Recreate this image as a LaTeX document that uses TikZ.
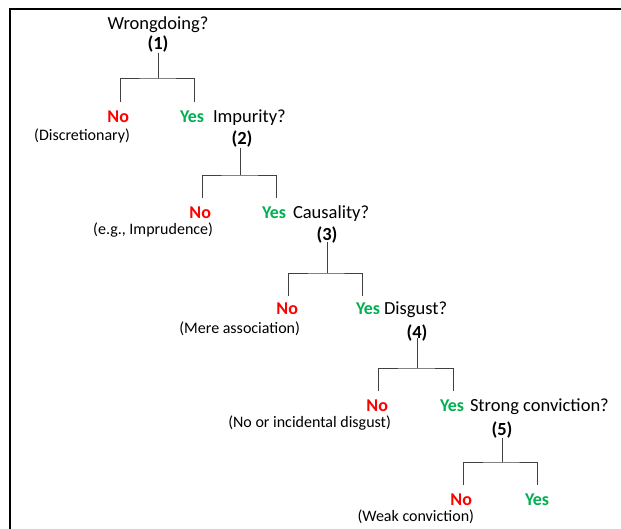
\documentclass[tikz,border=0pt]{standalone}
\usepackage{fontspec}
\setmainfont{Carlito}
\definecolor{nored}{HTML}{FF0000}
\definecolor{yesgreen}{HTML}{00B050}
\definecolor{linegray}{HTML}{404040}
\begin{document}
\begin{tikzpicture}[x=1pt,y=-1pt,
  every node/.style={inner sep=0pt,outer sep=0pt},
  qtext/.style={font=\fontsize{18.5}{22}\selectfont,text=black},
  numtext/.style={font=\fontsize{18.5}{22}\selectfont\bfseries,text=black},
  notext/.style={font=\fontsize{18}{22}\selectfont\bfseries,text=nored},
  yestext/.style={font=\fontsize{18}{22}\selectfont\bfseries,text=yesgreen},
  partext/.style={font=\fontsize{16}{19}\selectfont,text=black},
  conn/.style={draw=linegray,line width=0.9pt},
  frameline/.style={draw=black,line width=2pt}]
\useasboundingbox (0,0) rectangle (621,529);
% frame
\draw[frameline] (621,9.5) -- (9.5,9.5) -- (9.5,529);

% level 1
\node[qtext,anchor=base] (q1) at (158,30) {Wrongdoing?};
\node[numtext,anchor=base] (n1) at (158,50) {(1)};
\node[notext,anchor=base east] (no1) at (129,123) {No};
\node[partext,anchor=base east] (p1) at (130,141) {(Discretionary)};
\node[yestext,anchor=base west] (y1) at (180,123) {Yes};
\coordinate (j1) at (158,78);
\coordinate (lb1) at (120,102);
\coordinate (rb1) at (194,102);
\draw[conn] (n1.south -| j1) -- (j1);
\draw[conn] (lb1) |- (j1) -| (rb1);

% level 2
\node[qtext,anchor=base west] (q2) at (213,123) {Impurity?};
\node[numtext,anchor=base] (n2) at (242,145) {(2)};
\node[notext,anchor=base east] (no2) at (211,219) {No};
\node[partext,anchor=base east] (p2) at (213,235) {(e.g., Imprudence)};
\node[yestext,anchor=base west] (y2) at (262,219) {Yes};
\coordinate (j2) at (240,175);
\coordinate (lb2) at (202,198);
\coordinate (rb2) at (276,198);
\draw[conn] (n2.south -| j2) -- (j2);
\draw[conn] (lb2) |- (j2) -| (rb2);

% level 3
\node[qtext,anchor=base west] (q3) at (293,219) {Causality?};
\node[numtext,anchor=base] (n3) at (327,241) {(3)};
\node[notext,anchor=base east] (no3) at (298,315) {No};
\node[partext,anchor=base east] (p3) at (300,333) {(Mere association)};
\node[yestext,anchor=base west] (y3) at (356,315) {Yes};
\coordinate (j3) at (327,273);
\coordinate (lb3) at (288,296);
\coordinate (rb3) at (362,296);
\draw[conn] ([yshift=2pt]n3.south -| j3) -- (j3);
\draw[conn] (lb3) |- (j3) -| (rb3);

% level 4
\node[qtext,anchor=base west] (q4) at (384,315) {Disgust?};
\node[numtext,anchor=base] (n4) at (417,338) {(4)};
\node[notext,anchor=base east] (no4) at (388,411) {No};
\node[partext,anchor=base east] (p4) at (391,427) {(No or incidental disgust)};
\node[yestext,anchor=base west] (y4) at (440,411) {Yes};
\coordinate (j4) at (417,368);
\coordinate (lb4) at (378,391);
\coordinate (rb4) at (453,391);
\draw[conn] ([yshift=3pt]n4.south -| j4) -- (j4);
\draw[conn] (lb4) |- (j4) -| (rb4);

% level 5
\node[qtext,anchor=base west] (q5) at (470,411) {Strong conviction?};
\node[numtext,anchor=base] (n5) at (502,435) {(5)};
\node[notext,anchor=base east] (no5) at (472,505) {No};
\node[partext,anchor=base east] (p5) at (474,521) {(Weak conviction)};
\node[yestext,anchor=base west] (y5) at (525,505) {Yes};
\coordinate (j5) at (502,462);
\coordinate (lb5) at (463,485);
\coordinate (rb5) at (537,485);
\draw[conn] (n5.south -| j5) -- (j5);
\draw[conn] (lb5) |- (j5) -| (rb5);
\end{tikzpicture}
\end{document}
